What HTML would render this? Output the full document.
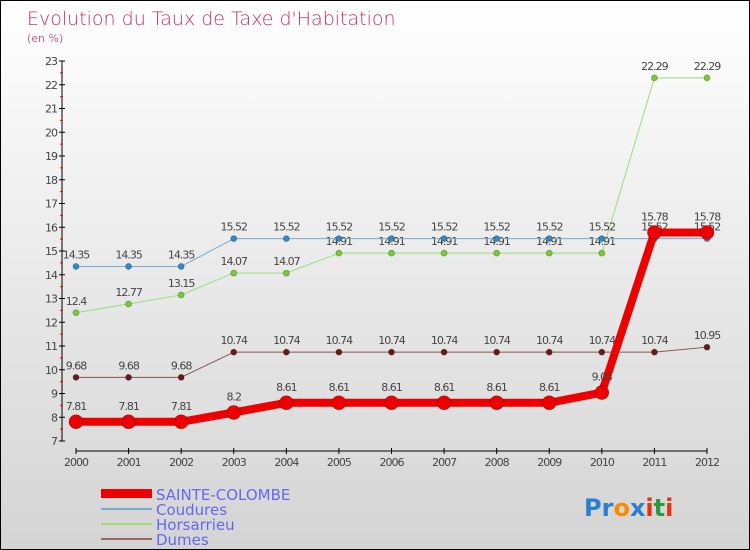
<!DOCTYPE html>
<html><head><meta charset="utf-8"><style>
body{margin:0;}
#c{width:750px;height:550px;position:relative;box-sizing:border-box;border:1px solid #000;background:linear-gradient(#ffffff,#d4d4d4);font-family:"DejaVu Sans","Liberation Sans",sans-serif;overflow:hidden;}
svg text{font-family:"DejaVu Sans","Liberation Sans",sans-serif;}
</style></head><body>
<div id="c">
<svg id="s" width="750" height="550">
<text x="26" y="24" font-size="19" fill="#c0306a" style="font-weight:200">Evolution du Taux de Taxe d'Habitation</text>
<text x="26" y="41" font-size="11" fill="#d0608a">(en %)</text>
<g id="ax"></g><g id="ser"></g>
<g>
<rect x="100" y="488" width="51" height="9" fill="#ee0000"/>
<text x="155" y="499" font-size="15" fill="#6666ee">SAINTE-COLOMBE</text>
<rect x="100" y="507" width="51" height="2" fill="#77aacc"/>
<text x="155" y="514" font-size="15" fill="#6666ee">Coudures</text>
<rect x="100" y="522" width="51" height="2" fill="#99dd77"/>
<text x="155" y="529" font-size="15" fill="#6666ee">Horsarrieu</text>
<rect x="100" y="537" width="51" height="2" fill="#996666"/>
<text x="155" y="544" font-size="15" fill="#6666ee">Dumes</text>
</g>
<text x="583" y="515" font-size="24" font-weight="bold"><tspan fill="#2a7fd4">Pr</tspan><tspan fill="#ff8a00">o</tspan><tspan fill="#2a7fd4">x</tspan><tspan fill="#e63010">i</tspan><tspan fill="#2a9a40">t</tspan><tspan fill="#e63010">i</tspan></text>
</svg></div>
<script>
const years=[2000,2001,2002,2003,2004,2005,2006,2007,2008,2009,2010,2011,2012];
const yTicks=[7,8,9,10,11,12,13,14,15,16,17,18,19,20,21,22,23];
const sainte=[7.81,7.81,7.81,8.2,8.61,8.61,8.61,8.61,8.61,8.61,9.04,15.78,15.78];
const coudures=[14.35,14.35,14.35,15.52,15.52,15.52,15.52,15.52,15.52,15.52,15.52,15.52,15.52];
const horsarrieu=[12.4,12.77,13.15,14.07,14.07,14.91,14.91,14.91,14.91,14.91,14.91,22.29,22.29];
const dumes=[9.68,9.68,9.68,10.74,10.74,10.74,10.74,10.74,10.74,10.74,10.74,10.74,10.95];
const NS="http://www.w3.org/2000/svg";
function X(i){return 75+i*(706-75)/(years.length-1);}
function Y(v){return 440-(v-7)*(380/16);}
function mk(t,a,p){const e=document.createElementNS(NS,t);for(const k in a)e.setAttribute(k,a[k]);p.appendChild(e);return e;}
const ax=document.getElementById('ax');
let l=mk('line',{x1:61,y1:60,x2:61,y2:440,stroke:'#000'},ax);

yTicks.forEach(v=>{mk('line',{x1:58,y1:Y(v),x2:64,y2:Y(v),stroke:'#000'},ax);
 if(v<23)mk('line',{x1:59,y1:Y(v+0.5),x2:62,y2:Y(v+0.5),stroke:'#e00'},ax);
 const t=mk('text',{x:56,y:Y(v)+4,'font-size':11,fill:'#444','text-anchor':'end','letter-spacing':'-1'},ax);t.textContent=v;
 });
l=mk('line',{x1:75,y1:450,x2:706,y2:450,stroke:'#000'},ax);

years.forEach((y,i)=>{mk('line',{x1:X(i),y1:447,x2:X(i),y2:453,stroke:'#000'},ax);
 const t=mk('text',{x:X(i),y:465,'font-size':11,fill:'#444','text-anchor':'middle','letter-spacing':'-1'},ax);t.textContent=y;
 });
const ser=document.getElementById('ser');
function draw(d,name,col,w,r,dot,lab){
 const g=mk('g',{},ser);
 mk('polyline',{points:d.map((v,i)=>X(i)+','+Y(v)).join(' '),fill:'none',stroke:col,'stroke-width':w,'stroke-linejoin':'round'},g);
 d.forEach((v,i)=>{const c=mk('circle',{cx:X(i),cy:Y(v),r:r,fill:dot,stroke:'rgba(0,0,0,0.3)','stroke-width':0.8},g);
  
  const t=mk('text',{x:X(i),y:Y(v)-lab,'font-size':11,fill:'#444','text-anchor':'middle','letter-spacing':'-1'},g);t.textContent=v;
  });
}
draw(dumes,'dumes','#885555',1,3,'#661a1a',8);
draw(horsarrieu,'horsarrieu','#99dd77',1,3,'#77cc33',8);
draw(coudures,'coudures','#77aacc',1,3,'#3388cc',8);
draw(sainte,'sainte-colombe','#ee0000',8,7,'#ee0000',12);
</script>
</body></html>
